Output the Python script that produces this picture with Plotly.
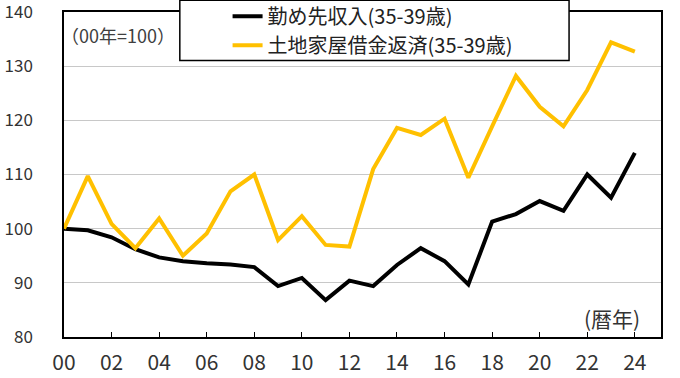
import plotly.graph_objects as go

years = list(range(2000, 2025))
tick_years = list(range(2000, 2025, 2))
tick_labels = ["00", "02", "04", "06", "08", "10", "12", "14", "16", "18", "20", "22", "24"]

income = [100.0, 99.7, 98.4, 96.2, 94.7, 94.0, 93.6, 93.4, 92.9, 89.4, 90.9, 86.8,
          90.4, 89.4, 93.3, 96.4, 94.0, 89.7, 101.3, 102.7, 105.1, 103.3, 110.0, 105.7, 114.0]
loan = [100.0, 109.7, 100.9, 96.4, 101.9, 95.0, 99.1, 106.9, 110.0, 97.9, 102.3, 97.0,
        96.7, 111.0, 118.6, 117.3, 120.3, 109.4, 118.9, 128.2, 122.5, 118.9, 125.6, 134.4, 132.7]

name_income = "勤め先収入(35-39歳)"
name_loan = "土地家屋借金返済(35-39歳)"

FONT = "Noto Sans CJK JP"

fig = go.Figure()
fig.add_trace(go.Scatter(x=years, y=income, mode="lines", name=name_income,
                         line=dict(color="#000000", width=4), legendgroup="a"))
fig.add_trace(go.Scatter(x=years, y=loan, mode="lines", name=name_loan,
                         line=dict(color="#FFC000", width=4), legendgroup="b"))

fig.update_layout(
    width=680, height=378,
    margin=dict(l=64, r=19, t=12, b=41, autoexpand=False),
    paper_bgcolor="white", plot_bgcolor="white",
    font=dict(family=FONT, color="#333333", size=17),
    showlegend=True,
    legend=dict(x=0.274, y=1.047, xanchor="left", yanchor="top",
                bgcolor="rgba(0,0,0,0)", borderwidth=0,
                font=dict(size=20, color="#222222"),
                tracegroupgap=0, itemwidth=30),
    shapes=[dict(type="rect", xref="x domain", yref="y domain",
                 x0=0.194, x1=0.846, y0=0.851, y1=1.036,
                 line=dict(color="black", width=1.5), fillcolor="white", layer="above")],
    annotations=[
        dict(text="（00年=100）", xref="paper", yref="paper", x=-0.008, y=0.93,
             xanchor="left", yanchor="middle", showarrow=False,
             font=dict(size=18, color="#404040")),
        dict(text="(暦年)", xref="paper", yref="paper", x=0.968, y=0.06,
             xanchor="right", yanchor="middle", showarrow=False,
             font=dict(size=21, color="#333333")),
    ],
)

fig.update_xaxes(range=[2000, 2025.1], tickvals=tick_years, ticktext=tick_labels,
                 ticks="inside", ticklen=5, tickcolor="black", tickwidth=1,
                 showline=True, linecolor="black", linewidth=1.5, mirror=True,
                 showgrid=False, zeroline=False, ticklabelstandoff=6,
                 tickfont=dict(size=21), automargin=False, ticklabeloverflow="allow")
fig.update_yaxes(range=[80, 140], dtick=10, showline=True, linecolor="black",
                 linewidth=1.5, mirror=True, showgrid=True, gridcolor="#C8C8C8",
                 gridwidth=1, zeroline=False, ticks="", ticklabelstandoff=26,
                 tickfont=dict(size=17), automargin=False, ticklabeloverflow="allow")

fig.write_html("out.html", config={"displayModeBar": False},
               post_script="document.body.style.margin='0';document.body.style.padding='0';")
